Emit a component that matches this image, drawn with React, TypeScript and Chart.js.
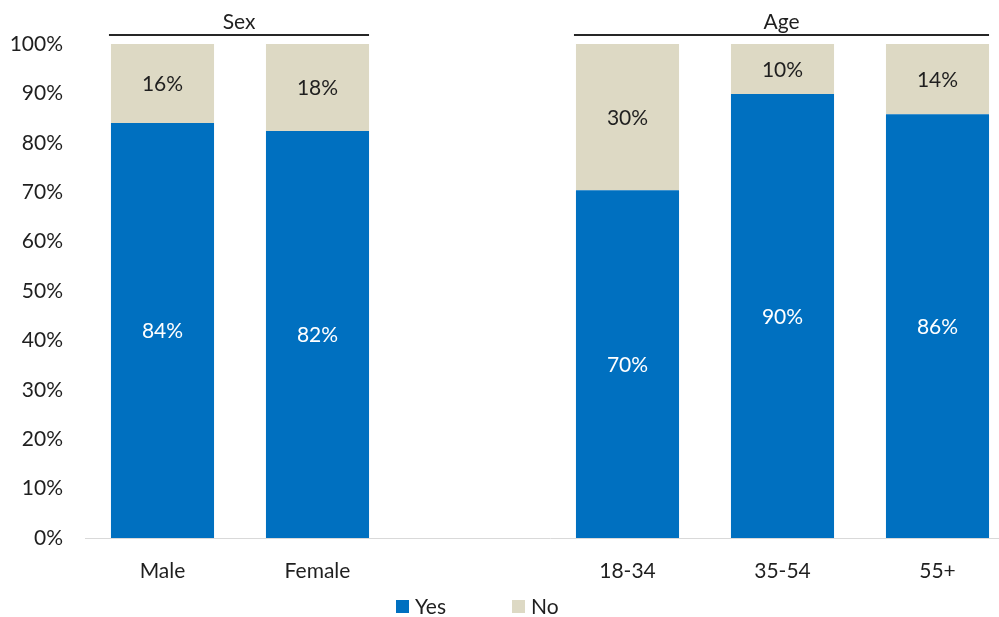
import React, { useEffect, useRef } from "react";
import { Chart, registerables } from "chart.js";

Chart.register(...registerables);

const categories = ["Male", "Female", "", "18-34", "35-54", "55+"];
const yesValues = [84, 82.4, null, 70.4, 89.9, 85.8];
const noValues = [16, 17.6, null, 29.6, 10.1, 14.2];
const seriesNames = ["Yes", "No"];
const seriesColors = ["#0070C0", "#DDD9C4"];
const labelColors = ["#ffffff", "#1f1f1f"];
const groupNames = ["Sex", "Age"];
const groupStart = [0, 3];
const groupEnd = [1, 5];
const yTicks = [0, 10, 20, 30, 40, 50, 60, 70, 80, 90, 100];

const FONT = "Lato, 'Open Sans', sans-serif";
const TEXT = "#1f1f1f";
const FS = 21;

const overlayPlugin = {
  id: "overlay",
  afterDatasetsDraw(chart: any) {
    const ctx = chart.ctx;
    ctx.save();
    ctx.font = `${FS}px ${FONT}`;
    ctx.textAlign = "center";
    ctx.textBaseline = "middle";
    chart.data.datasets.forEach((ds: any, di: number) => {
      const meta = chart.getDatasetMeta(di);
      meta.data.forEach((el: any, i: number) => {
        const v = ds.data[i];
        if (v === null || v === undefined) return;
        ctx.fillStyle = labelColors[di];
        ctx.fillText(Math.round(v) + "%", el.x, (el.y + el.base) / 2 + 1);
      });
    });
    // group headers
    const meta0 = chart.getDatasetMeta(0);
    groupNames.forEach((g, gi) => {
      const a = meta0.data[groupStart[gi]];
      const b = meta0.data[groupEnd[gi]];
      const x1 = a.x - a.width / 2 - 2;
      const x2 = b.x + b.width / 2;
      const y = chart.chartArea.top - 9;
      ctx.strokeStyle = "#262626";
      ctx.lineWidth = 2;
      ctx.beginPath();
      ctx.moveTo(x1, y);
      ctx.lineTo(x2, y);
      ctx.stroke();
      ctx.fillStyle = TEXT;
      ctx.fillText(g, (x1 + x2) / 2, y - 13);
    });
    // legend
    let x = 396;
    const ly = 606;
    seriesNames.forEach((n, i) => {
      ctx.fillStyle = seriesColors[i];
      ctx.fillRect(x, ly - 6, 13, 13);
      ctx.fillStyle = TEXT;
      ctx.textAlign = "left";
      ctx.fillText(n, x + 19, ly + 1);
      x += 116;
    });
    ctx.restore();
  },
};

export default function App() {
  const ref = useRef<HTMLCanvasElement>(null);
  useEffect(() => {
    if (!ref.current) return;
    const chart = new Chart(ref.current, {
      type: "bar",
      data: {
        labels: categories,
        datasets: [
          { label: seriesNames[0], data: yesValues as any, backgroundColor: seriesColors[0], borderWidth: 0 },
          { label: seriesNames[1], data: noValues as any, backgroundColor: seriesColors[1], borderWidth: 0 },
        ],
      },
      options: {
        responsive: false,
        animation: false,
        events: [],
        layout: { padding: { top: 44, right: 15, left: 0, bottom: 0 } },
        plugins: { legend: { display: false }, tooltip: { enabled: false } },
        scales: {
          x: {
            stacked: true,
            grid: { display: false, drawTicks: false },
            border: { display: true, color: "#d9d9d9", width: 1 },
            ticks: { color: TEXT, font: { family: FONT, size: FS }, padding: 21, maxRotation: 0, autoSkip: false },
            afterFit: (s: any) => { s.height = 79; },
          },
          y: {
            stacked: true,
            min: 0,
            max: 100,
            afterBuildTicks: (s: any) => { s.ticks = yTicks.map((v) => ({ value: v })); },
            grid: { display: false, drawTicks: false },
            border: { display: false },
            ticks: { color: TEXT, font: { family: FONT, size: FS }, padding: 22, callback: (v: any) => v + "%" },
            afterFit: (s: any) => { s.width = 85; },
          },
        },
        datasets: { bar: { barPercentage: 0.665, categoryPercentage: 1 } },
      } as any,
      plugins: [overlayPlugin],
    });
    return () => chart.destroy();
  }, []);
  return (
    <div style={{ position: "fixed", left: 0, top: 0, width: 999, height: 617, overflow: "hidden", background: "#fff" }}>
      <canvas ref={ref} width={1030} height={617} style={{ display: "block" }} />
    </div>
  );
}
